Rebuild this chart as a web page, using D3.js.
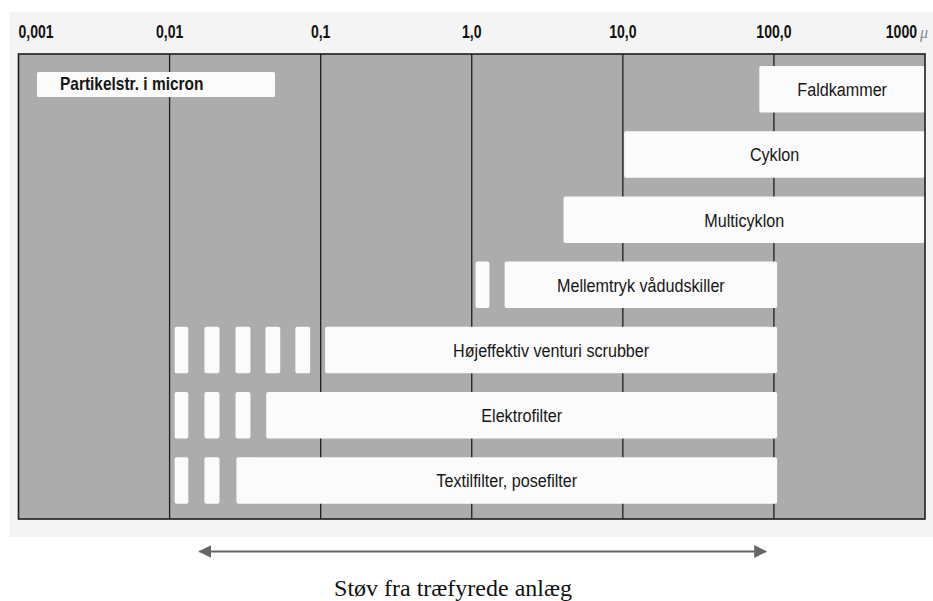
<!DOCTYPE html>
<html>
<head>
<meta charset="utf-8">
<script src="https://cdn.jsdelivr.net/npm/d3@7"></script>
<style>
  html, body { margin: 0; padding: 0; background: #ffffff; }
  svg { display: block; }
</style>
</head>
<body>
<svg id="chart" width="933" height="601"></svg>
<script>
// ---------- data ----------
const tickValues = [0.001, 0.01, 0.1, 1, 10, 100, 1000];
const tickLabels = ["0,001", "0,01", "0,1", "1,0", "10,0", "100,0", "1000"];
const unitLabel = "μ";
const legendLabel = "Partikelstr. i micron";

const categories = [
  "Faldkammer",
  "Cyklon",
  "Multicyklon",
  "Mellemtryk vådudskiller",
  "Højeffektiv venturi scrubber",
  "Elektrofilter",
  "Textilfilter, posefilter"
];
const rangeMin = [80, 10.2, 4.05, 1.65, 0.107, 0.0436, 0.0277];
const rangeMax = [1000, 1000, 1000, 105, 105, 105, 105];
// dashed (uncertain) extensions of each range, as [from, to] pairs in micron
const dashSegments = [
  [],
  [],
  [],
  [[1.06, 1.31]],
  [[0.0108, 0.0133], [0.0170, 0.0214], [0.0273, 0.0343], [0.0431, 0.0540], [0.0680, 0.0852]],
  [[0.0108, 0.0133], [0.0170, 0.0214], [0.0273, 0.0343]],
  [[0.0108, 0.0133], [0.0170, 0.0214]]
];
const dustRange = [0.0158, 88.5];
const dustLabel = "Støv fra træfyrede anlæg";

// ---------- layout ----------
const svg = d3.select("#chart");
const sans = "'Liberation Sans', Arial, Helvetica, sans-serif";

const x = d3.scaleLog().domain([0.001, 1000]).range([18.5, 925]);
const plotTop = 54, plotBottom = 519;
const y = d3.scaleBand().domain(categories).range([66, 503.7]).paddingInner(0.287).paddingOuter(0);

// helper: condensed text (the original uses a narrow grotesque)
function narrowText(parent, tx, ty, str, size, weight, anchor, squeeze) {
  const g = parent.append("g").attr("transform", `translate(${tx},${ty}) scale(${squeeze},1)`);
  g.append("text")
    .attr("x", 0).attr("y", 0)
    .attr("text-anchor", anchor)
    .attr("font-family", sans).attr("font-size", size).attr("font-weight", weight)
    .attr("fill", "#161616")
    .text(str);
  return g;
}

// light panel behind the chart
svg.append("rect")
  .attr("x", 9).attr("y", 12).attr("width", 924).attr("height", 525)
  .attr("fill", "#f4f4f4");

// gray plot area
svg.append("rect")
  .attr("x", x(0.001)).attr("y", plotTop)
  .attr("width", x(1000) - x(0.001)).attr("height", plotBottom - plotTop)
  .attr("fill", "#acacac");

// vertical grid lines
svg.append("g").selectAll("line")
  .data(tickValues.slice(1, -1))
  .join("line")
  .attr("x1", d => x(d)).attr("x2", d => x(d))
  .attr("y1", plotTop).attr("y2", plotBottom)
  .attr("stroke", "#1e1e1e").attr("stroke-width", 1.3);

// legend box
svg.append("rect")
  .attr("x", 37).attr("y", 72).attr("width", 238).attr("height", 25)
  .attr("rx", 1.5)
  .attr("fill", "#fbfbfb");
narrowText(svg, 60, 90, legendLabel, 18, "bold", "start", 0.86);

// bars
const rowData = categories.map((c, i) => ({ c, lo: rangeMin[i], hi: rangeMax[i], dashes: dashSegments[i] }));
const rows = svg.append("g").selectAll("g")
  .data(rowData)
  .join("g");

rows.append("rect")
  .attr("x", d => x(d.lo)).attr("y", d => y(d.c))
  .attr("width", d => x(d.hi) - x(d.lo)).attr("height", y.bandwidth())
  .attr("rx", 2)
  .attr("fill", "#fbfbfb");

rows.selectAll("rect.dash")
  .data(d => d.dashes.map(s => ({ c: d.c, s })))
  .join("rect")
  .attr("class", "dash")
  .attr("x", d => x(d.s[0])).attr("y", d => y(d.c))
  .attr("width", d => x(d.s[1]) - x(d.s[0])).attr("height", y.bandwidth())
  .attr("rx", 2)
  .attr("fill", "#fbfbfb");

const labelLayer = svg.append("g");
rowData.forEach(d => {
  narrowText(labelLayer,
    (x(d.lo) + x(d.hi)) / 2,
    y(d.c) + y.bandwidth() / 2 + 7,
    d.c, 19, "normal", "middle", 0.85);
});

// plot frame
svg.append("rect")
  .attr("x", x(0.001)).attr("y", plotTop)
  .attr("width", x(1000) - x(0.001)).attr("height", plotBottom - plotTop)
  .attr("fill", "none")
  .attr("stroke", "#1e1e1e").attr("stroke-width", 1.6);

// top axis labels
const axis = d3.axisTop(x)
  .tickValues(tickValues)
  .tickFormat((d, i) => tickLabels[i])
  .tickSize(0)
  .tickPadding(0);
const gAxis = svg.append("g").attr("transform", "translate(0,38)").call(axis);
gAxis.select(".domain").remove();
const last = tickValues.length - 1;
gAxis.selectAll(".tick")
  .attr("transform", (d, i) => `translate(${x(d) + (i === last ? -8 : 0)},0)`);
gAxis.selectAll("text")
  .attr("y", 0).attr("dy", 0)
  .attr("transform", "scale(0.78,1)")
  .attr("font-family", sans).attr("font-weight", "bold").attr("font-size", 18)
  .attr("fill", "#111")
  .attr("text-anchor", (d, i) => i === 0 ? "start" : (i === last ? "end" : "middle"));

svg.append("text")
  .attr("x", 920).attr("y", 38)
  .attr("font-family", "'Liberation Serif', serif").attr("font-style", "italic")
  .attr("font-size", 16).attr("fill", "#888")
  .text(unitLabel);

// bottom double arrow
const arrowY = 551.5;
const defs = svg.append("defs");
["start", "end"].forEach(k => {
  defs.append("marker")
    .attr("id", "arr-" + k)
    .attr("viewBox", "0 0 10 10")
    .attr("refX", k === "end" ? 9 : 1).attr("refY", 5)
    .attr("markerWidth", 6.5).attr("markerHeight", 6.5)
    .attr("markerUnits", "strokeWidth")
    .attr("orient", "auto")
    .append("path")
    .attr("d", k === "end" ? "M0,0 L10,5 L0,10 Z" : "M10,0 L0,5 L10,10 Z")
    .attr("fill", "#666");
});
svg.append("line")
  .attr("x1", x(dustRange[0])).attr("x2", x(dustRange[1]))
  .attr("y1", arrowY).attr("y2", arrowY)
  .attr("stroke", "#666").attr("stroke-width", 2)
  .attr("marker-start", "url(#arr-start)")
  .attr("marker-end", "url(#arr-end)");

svg.append("text")
  .attr("x", 453)
  .attr("y", 596)
  .attr("text-anchor", "middle")
  .attr("font-family", "'Liberation Serif', 'Times New Roman', serif")
  .attr("font-size", 24)
  .attr("fill", "#111")
  .text(dustLabel);
</script>
</body>
</html>
